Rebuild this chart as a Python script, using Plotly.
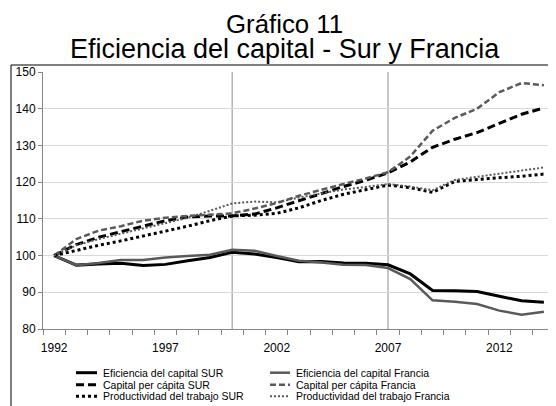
import plotly.graph_objects as go

years = list(range(1992, 2015))

efic_sur = [100, 97.4, 97.7, 97.9, 97.3, 97.6, 98.6, 99.5, 100.9, 100.4, 99.5, 98.3,
            98.4, 98.0, 97.9, 97.5, 95.0, 90.5, 90.4, 90.2, 88.9, 87.7, 87.3]
efic_fra = [100, 97.4, 98.0, 98.8, 98.8, 99.5, 99.9, 100.2, 101.6, 101.3, 99.9, 98.6,
            98.1, 97.5, 97.4, 96.6, 93.6, 87.8, 87.4, 86.8, 85.0, 83.9, 84.7]
cap_sur = [100, 103.0, 105.0, 106.5, 108.0, 109.5, 110.5, 110.8, 110.8, 111.3, 113.0, 115.0,
           117.0, 118.8, 120.5, 122.5, 125.5, 129.5, 131.7, 133.5, 136.0, 138.5, 140.2]
cap_fra = [100, 104.5, 106.8, 108.0, 109.5, 110.3, 110.8, 111.2, 111.5, 112.8, 114.3, 116.3,
           118.0, 119.5, 121.0, 122.7, 127.0, 134.0, 137.5, 140.0, 144.5, 147.0, 146.4]
prod_sur = [100, 101.5, 102.8, 104.0, 105.3, 106.5, 108.0, 109.5, 110.8, 111.0, 111.5, 113.0,
            115.0, 116.7, 118.0, 119.2, 118.5, 117.2, 120.2, 120.8, 121.2, 121.6, 122.2]
prod_fra = [100, 102.8, 104.5, 106.0, 107.5, 108.8, 110.3, 112.2, 114.2, 114.7, 114.5, 115.8,
            117.0, 118.0, 118.7, 119.5, 118.8, 117.8, 120.6, 121.5, 122.3, 123.2, 124.0]

names = ["Eficiencia del capital SUR", "Eficiencia del capital Francia",
         "Capital per cápita SUR", "Capital per cápita Francia",
         "Productividad del trabajo SUR", "Productividad del trabajo Francia"]
series = [efic_sur, efic_fra, cap_sur, cap_fra, prod_sur, prod_fra]
tick_years = [1992, 1997, 2002, 2007, 2012]
vline_years = [2000, 2007]
title_lines = ["Gráfico 11", "Eficiencia del capital - Sur y Francia"]

BLACK = "#000000"
GRAY = "#5a5a5a"
styles = [
    dict(color=BLACK, width=3, dash="solid"),
    dict(color=GRAY, width=2.5, dash="solid"),
    dict(color=BLACK, width=3, dash="8px,4px"),
    dict(color=GRAY, width=2.5, dash="6px,3px"),
    dict(color=BLACK, width=3, dash="3px,3px"),
    dict(color=GRAY, width=2, dash="2px,2px"),
]

OFF = 8  # page body margin
W, H = 556 - OFF, 406 - OFF
L, R, T, B = 35, 1, 64, 77
PW, PH = W - L - R, H - T - B


def px(x):
    """page x pixel -> paper coordinate"""
    return (x - OFF - L) / PW


def py(y):
    """page y pixel -> paper coordinate"""
    return (H - B - (y - OFF)) / PH


FONT = "Arial, Liberation Sans, sans-serif"

fig = go.Figure()
for name, vals, st in zip(names, series, styles):
    fig.add_trace(go.Scatter(x=years, y=vals, mode="lines", name=name,
                             line=st, showlegend=False))

shapes = []
for vy in vline_years:
    shapes.append(dict(type="line", xref="x", yref="paper", x0=vy, x1=vy, y0=0, y1=1,
                       line=dict(color="#b4b4b4", width=1.5), layer="below"))
# chart border
shapes.append(dict(type="rect", xref="paper", yref="paper", x0=px(11), x1=px(570),
                   y0=py(420), y1=py(65), line=dict(color="black", width=1)))

annotations = []
annotations.append(dict(text=title_lines[0], xref="paper", yref="paper",
                        x=px(284), y=py(24), xanchor="center", yanchor="middle",
                        showarrow=False, font=dict(family=FONT, size=25.8, color="black")))
annotations.append(dict(text=title_lines[1], xref="paper", yref="paper",
                        x=px(285), y=py(49), xanchor="center", yanchor="middle",
                        showarrow=False, font=dict(family=FONT, size=27, color="black")))

# manual legend
col_line = [(76, 97), (270, 290)]
col_text = [101, 294]
rows = [372.7, 384.7, 396.3]
for i, (name, st) in enumerate(zip(names, styles)):
    r, c = i // 2, i % 2
    yy = rows[r]
    shapes.append(dict(type="line", xref="paper", yref="paper",
                       x0=px(col_line[c][0]), x1=px(col_line[c][1]), y0=py(yy), y1=py(yy),
                       line=dict(color=st["color"], width=st["width"], dash=st["dash"])))
    annotations.append(dict(text=name, xref="paper", yref="paper", x=px(col_text[c]),
                            y=py(yy), xanchor="left", yanchor="middle", showarrow=False,
                            font=dict(family=FONT, size=10.5, color="black")))

fig.update_layout(
    width=W, height=H,
    margin=dict(l=L, r=R, t=T, b=B, pad=0),
    paper_bgcolor="white", plot_bgcolor="white",
    font=dict(family=FONT, size=12, color="black"),
    shapes=shapes, annotations=annotations,
    showlegend=False,
)
fig.update_xaxes(range=[1991.5, 2014.5], tickmode="array", tickvals=tick_years,
                 ticktext=[str(t) for t in tick_years], ticks="", showgrid=False,
                 showline=True, linecolor="#868686", linewidth=1,
                 ticklabelstandoff=8,
                 minor=dict(tickmode="linear", tick0=1991.5, dtick=1, ticks="outside",
                            ticklen=5, tickcolor="#868686", showgrid=False),
                 tickfont=dict(family=FONT, size=12, color="black"), zeroline=False)
fig.update_yaxes(range=[80, 150], dtick=10, tick0=80, ticks="outside", ticklen=4,
                 tickcolor="#868686", showgrid=True, gridcolor="#d9d9d9", gridwidth=1,
                 showline=True, linecolor="#868686", linewidth=1, mirror=True,
                 tickfont=dict(family=FONT, size=12, color="black"), zeroline=False)

fig.write_html("out.html")
